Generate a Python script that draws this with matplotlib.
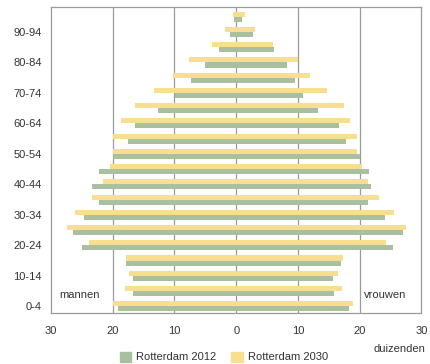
import numpy as np
import matplotlib
matplotlib.use('Agg')
import matplotlib.pyplot as plt
from matplotlib.patches import Patch

plt.rcParams['font.family'] = ['Liberation Sans', 'DejaVu Sans']

# age groups, bottom (0-4) to top (95-99)
ages = ['0-4', '5-9', '10-14', '15-19', '20-24', '25-29', '30-34', '35-39', '40-44', '45-49',
        '50-54', '55-59', '60-64', '65-69', '70-74', '75-79', '80-84', '85-89', '90-94', '95-99']

# x 1000 persons
men_2012 = [19.1, 16.7, 16.7, 17.85, 24.9, 26.5, 24.7, 22.2, 23.3, 22.2,
            20.0, 17.5, 16.35, 12.7, 9.85, 7.3, 5.1, 2.8, 1.0, 0.3]
men_2030 = [19.9, 18.0, 17.3, 17.85, 23.9, 27.4, 26.1, 23.4, 21.5, 20.4,
            19.9, 19.9, 18.6, 16.35, 13.3, 10.3, 7.6, 3.9, 1.8, 0.55]
women_2012 = [18.2, 15.8, 15.7, 16.97, 25.45, 27.07, 24.05, 21.3, 21.9, 21.45,
              20.0, 17.8, 16.6, 13.25, 10.75, 9.46, 8.27, 6.05, 2.76, 0.92]
women_2030 = [18.9, 17.1, 16.5, 17.3, 24.3, 27.5, 25.6, 23.1, 21.35, 20.4,
              19.56, 19.56, 18.4, 17.4, 14.65, 12.0, 10.0, 5.95, 3.1, 1.35]

green = '#a9c0a0'
yellow = '#f7df8f'
grey = '#9a9a9a'
txt = '#333333'

fig = plt.figure(figsize=(4.3, 3.64), dpi=100)
ax = fig.add_axes([0.1186, 0.140, 0.8614, 0.841])

y = np.arange(len(ages))
h = 0.33
off = 0.17

ax.barh(y + off, -np.array(men_2030), height=h, color=yellow, zorder=2)
ax.barh(y - off, -np.array(men_2012), height=h, color=green, zorder=2)
ax.barh(y + off, women_2030, height=h, color=yellow, zorder=2)
ax.barh(y - off, women_2012, height=h, color=green, zorder=2)

ax.set_xlim(-30, 30)
ax.set_ylim(-0.44, 19.64)

xt = [-30, -20, -10, 0, 10, 20, 30]
ax.set_xticks(xt)
ax.set_xticklabels([str(abs(v)) for v in xt], fontsize=8, color=txt)
ax.set_yticks(y[::2])
ax.set_yticklabels(ages[::2], fontsize=8, color=txt)
ax.tick_params(axis='both', length=0)
ax.tick_params(axis='x', pad=9.5)
ax.tick_params(axis='y', pad=6.5)

for v in [-20, -10, 0, 10, 20]:
    ax.axvline(v, color=grey, lw=0.9, zorder=1)

for s in ax.spines.values():
    s.set_color(grey)
    s.set_linewidth(0.9)

ax.text(-28.6, 0.74, 'mannen', fontsize=8, color=txt, ha='left', va='center')
ax.text(27.6, 0.74, 'vrouwen', fontsize=8, color=txt, ha='right', va='center')
fig.text(0.99, 0.042, 'duizenden', fontsize=8, color=txt, ha='right', va='center')

handles = [Patch(color=green, label='Rotterdam 2012'),
           Patch(color=yellow, label='Rotterdam 2030')]
fig.legend(handles=handles, loc='center', bbox_to_anchor=(0.52, 0.019), ncol=2,
           frameon=False, fontsize=8, handlelength=1.0, handleheight=1.0,
           handletextpad=0.45, columnspacing=1.4, labelcolor=txt)

fig.savefig('out.png', dpi=100)
